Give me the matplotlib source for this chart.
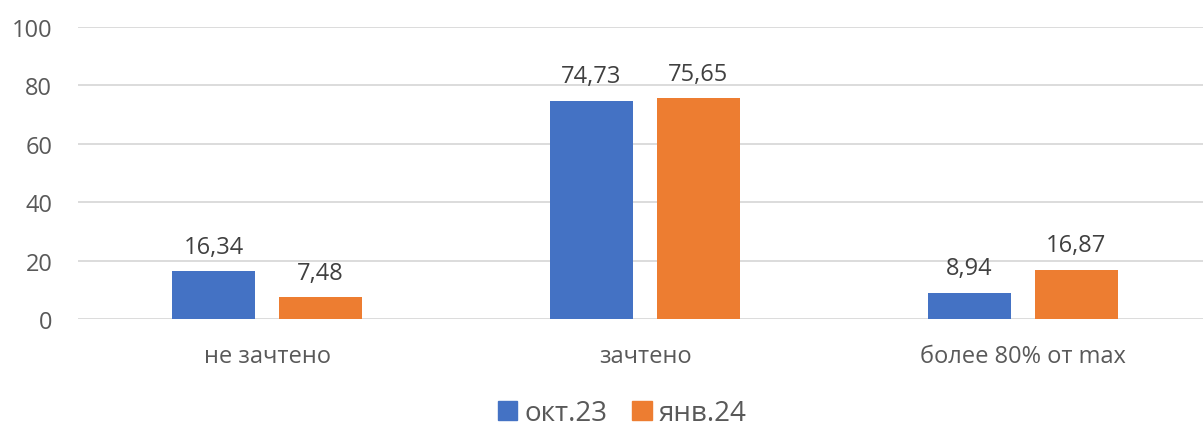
import matplotlib
matplotlib.use("Agg")
import matplotlib.pyplot as plt
import numpy as np
from matplotlib.patches import Patch

categories = ["не зачтено", "зачтено", "более 80% от max"]
series_names = ["окт.23", "янв.24"]
oct23 = [16.34, 74.73, 8.94]
jan24 = [7.48, 75.65, 16.87]
colors = ["#4472C4", "#ED7D31"]

plt.rcParams['font.family'] = ['Open Sans', 'DejaVu Sans']

fig = plt.figure(figsize=(12.03, 4.27), dpi=100)
ax = fig.add_axes([78/1203, 107/427, 1 - 78/1203, (320-28)/427])

x = np.arange(len(categories))
w = 0.222
off = 0.1415
for vals, col, sgn in [(oct23, colors[0], -1), (jan24, colors[1], 1)]:
    bars = ax.bar(x + sgn*off, vals, width=w, color=col, zorder=3)
    for b, v in zip(bars, vals):
        ax.text(b.get_x() + b.get_width()/2, v + 4.3, f"{v:.2f}".replace('.', ','),
                ha='center', va='bottom', fontsize=17, color='#404040')

ax.set_xlim(-0.5, (1203-267)/378)
ax.set_ylim(0, 100)
ax.set_yticks(range(0, 101, 20))
ax.grid(axis='y', color='#D9D9D9', linewidth=1.3, zorder=0)
for s in ax.spines.values():
    s.set_visible(False)
ax.tick_params(axis='both', length=0, labelsize=17, labelcolor='#595959')
ax.tick_params(axis='y', pad=18.5)
ax.tick_params(axis='x', pad=18)
ax.set_xticks(x)
ax.set_xticklabels(categories)

handles = [Patch(color=c) for c in colors]
fig.legend(handles, series_names, loc='center', bbox_to_anchor=(622/1203, 1 - 414/427),
           ncol=2, frameon=False, fontsize=20, labelcolor='#595959',
           handlelength=0.7, handleheight=0.7, handletextpad=0.25, columnspacing=0.9)

fig.savefig("out.png", dpi=100)
